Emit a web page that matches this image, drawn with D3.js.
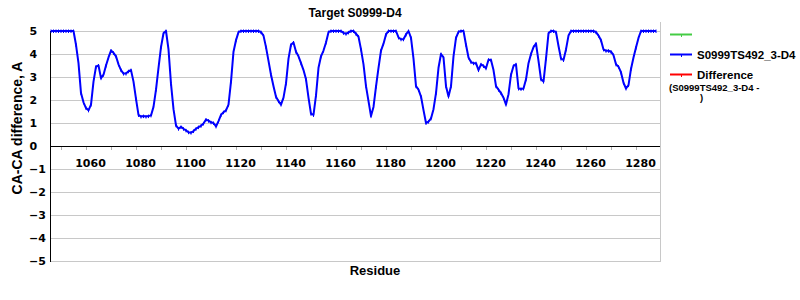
<!DOCTYPE html>
<html>
<head>
<meta charset="utf-8">
<script src="https://cdn.jsdelivr.net/npm/d3@7"></script>
<style>
  body { margin: 0; background: #fff; }
  svg { display: block; }
</style>
</head>
<body>
<div id="chart"></div>
<script>
// Chart data (one value per residue)
const firstResidue = 1046;
const caDiff = [
  5, 5, 5, 5, 5, 5, 5, 5, 5, 5,
  4.4, 3.6, 2.3, 1.9, 1.65, 1.55, 1.8, 2.8, 3.45, 3.5,
  2.95, 3.1, 3.5, 3.85, 4.15, 4.05, 3.9, 3.55, 3.3, 3.15,
  3.15, 3.25, 3.3, 2.8, 2.05, 1.35, 1.28, 1.3, 1.28, 1.3,
  1.33, 1.7, 2.45, 3.4, 4.3, 4.9, 5, 4.2, 2.7, 1.6,
  0.9, 0.75, 0.83, 0.75, 0.68, 0.6, 0.58, 0.65, 0.75, 0.82,
  0.88, 0.98, 1.15, 1.1, 1.03, 1.0, 0.85, 1.08, 1.35, 1.47,
  1.55, 1.8, 2.8, 4.1, 4.6, 4.95, 5, 5, 5, 5,
  5, 5, 5, 5, 4.95, 4.8, 4.3, 3.7, 3.1, 2.6,
  2.14, 1.95, 1.8, 2.1, 2.72, 3.8, 4.4, 4.5, 4.1, 3.9,
  3.6, 3.3, 2.9, 2.1, 1.4, 1.35, 2.2, 3.4, 3.9, 4.15,
  4.5, 4.95, 5, 5, 5, 5, 5, 4.92, 4.88, 4.94,
  5, 5, 4.88, 4.75, 4.2, 3.55, 2.6, 1.95, 1.3, 1.7,
  2.58, 3.4, 4.15, 4.45, 4.85, 5, 5, 5, 5, 4.72,
  4.64, 4.64, 4.85, 5, 4.7, 3.8, 2.6, 2.45, 2.15, 1.56,
  1.0, 1.06, 1.2, 1.6, 2.3, 3.4, 4.0, 3.85, 2.6, 2.15,
  2.6, 3.9, 4.7, 4.96, 5, 5, 4.4, 3.85, 3.65, 3.6,
  3.6, 3.3, 3.55, 3.48, 3.38, 3.75, 3.74, 3.3, 2.6, 2.45,
  2.3, 2.1, 1.8, 2.25, 3.1, 3.48, 3.55, 2.5, 2.48, 2.5,
  2.9, 3.6, 4.0, 4.3, 4.45, 3.7, 2.9, 2.8, 3.8, 4.9,
  5, 5, 4.95, 4.35, 3.8, 3.74, 4.2, 4.8, 5, 5,
  5, 5, 5, 5, 5, 5, 5, 5, 4.95, 4.8,
  4.6, 4.2, 4.14, 4.14, 4.1, 3.95, 3.55, 3.45, 3.2, 2.75,
  2.5, 2.65, 3.35, 3.85, 4.28, 4.7, 5, 5, 5, 5,
  5, 5, 5
];
const residues = caDiff.map((d, i) => firstResidue + i);
const xTicks = [1060, 1080, 1100, 1120, 1140, 1160, 1180, 1200, 1220, 1240, 1260, 1280];
const yTicks = [5, 4, 3, 2, 1, 0, -1, -2, -3, -4, -5];
const legendItems = [
  { label: "", color: "#44cc44" },
  { label: "S0999TS492_3-D4", color: "#0000ff" },
  { label: "Difference", color: "#ff0000" }
];

const width = 800;
const height = 300;
const plotLeft = 50;
const plotRight = 660;
const plotTop = 31;
const plotBottom = 261;

const x = d3.scaleLinear().domain([1045.6, 1289.6]).range([plotLeft, plotRight]);
const y = d3.scaleLinear().domain([-5, 5]).range([plotBottom, plotTop]);

const svg = d3.select("#chart")
  .append("svg")
  .attr("width", width)
  .attr("height", height)
  .attr("style", "font-family: 'DejaVu Sans', sans-serif;");

svg.append("rect").attr("width", width).attr("height", height).attr("fill", "#fff");

// horizontal grid lines
svg.append("g")
  .selectAll("line")
  .data(yTicks.filter((d) => d !== 0))
  .join("line")
  .attr("x1", plotLeft)
  .attr("x2", plotRight)
  .attr("y1", (d) => y(d) + 0.5)
  .attr("y2", (d) => y(d) + 0.5)
  .attr("stroke", "#c8c8c8");

// right border
svg.append("line")
  .attr("x1", plotRight + 0.5).attr("x2", plotRight + 0.5)
  .attr("y1", 22).attr("y2", plotBottom + 1)
  .attr("stroke", "#c8c8c8");

// minor ticks every 10 residues on the zero line
svg.append("g")
  .selectAll("line")
  .data(d3.range(1050, 1290, 10))
  .join("line")
  .attr("x1", (d) => Math.round(x(d)) + 0.5)
  .attr("x2", (d) => Math.round(x(d)) + 0.5)
  .attr("y1", y(0))
  .attr("y2", y(0) + 4)
  .attr("stroke", "#b0b0b0");

// zero line and y axis line
svg.append("line")
  .attr("x1", plotLeft).attr("x2", plotRight)
  .attr("y1", y(0) + 0.5).attr("y2", y(0) + 0.5)
  .attr("stroke", "#000");
svg.append("line")
  .attr("x1", plotLeft + 0.5).attr("x2", plotLeft + 0.5)
  .attr("y1", plotTop).attr("y2", plotBottom + 1)
  .attr("stroke", "#000");

// x tick labels
svg.append("g")
  .selectAll("text")
  .data(xTicks)
  .join("text")
  .attr("x", (d) => x(d) + 4.5)
  .attr("y", 167)
  .attr("text-anchor", "middle")
  .attr("font-size", 11)
  .attr("font-weight", "bold")
  .text((d) => d);

// y tick labels (left aligned, as in the reference)
svg.append("g")
  .selectAll("text")
  .data(yTicks)
  .join("text")
  .attr("x", (d) => (d < 0 ? 29 : 29.5))
  .attr("y", (d) => y(d) + 4)
  .attr("font-size", 11)
  .attr("font-weight", "bold")
  .text((d) => (d < 0 ? "\u2212" + Math.abs(d) : d));

// title and axis titles
svg.append("text")
  .attr("x", 355).attr("y", 17)
  .attr("text-anchor", "middle")
  .attr("font-family", "'Liberation Sans', Arial, sans-serif")
  .attr("font-size", 12).attr("font-weight", "bold")
  .text("Target S0999-D4");

svg.append("text")
  .attr("x", 375).attr("y", 275)
  .attr("text-anchor", "middle")
  .attr("font-family", "'Liberation Sans', Arial, sans-serif")
  .attr("font-size", 13).attr("font-weight", "bold")
  .text("Residue");

svg.append("text")
  .attr("transform", "translate(22,128) rotate(-90)")
  .attr("text-anchor", "middle")
  .attr("font-family", "'Liberation Sans', Arial, sans-serif")
  .attr("font-size", 14).attr("font-weight", "bold")
  .text("CA-CA difference, A");

// the series line
const line = d3.line()
  .x((d, i) => x(residues[i]))
  .y((d) => y(d));

svg.append("path")
  .datum(caDiff)
  .attr("fill", "none")
  .attr("stroke", "#0000ff")
  .attr("stroke-width", 2)
  .attr("stroke-linejoin", "round")
  .attr("d", line);

// small point markers
svg.append("g")
  .selectAll("line")
  .data(caDiff)
  .join("line")
  .attr("x1", (d, i) => x(residues[i]))
  .attr("x2", (d, i) => x(residues[i]))
  .attr("y1", (d) => y(d) - 1.5)
  .attr("y2", (d) => y(d) + 2)
  .attr("stroke", "#0000ff")
  .attr("stroke-width", 1);

// legend
const legend = svg.append("g");
legendItems.forEach((item, i) => {
  const ly = 34.5 + i * 20;
  legend.append("line")
    .attr("x1", 670).attr("x2", 692)
    .attr("y1", ly).attr("y2", ly)
    .attr("stroke", item.color).attr("stroke-width", 2);
  legend.append("line")
    .attr("x1", 681.5).attr("x2", 681.5)
    .attr("y1", ly - 0.5).attr("y2", ly + 2.5)
    .attr("stroke", item.color).attr("stroke-width", 1);
  legend.append("text")
    .attr("x", 697).attr("y", ly + 4.5)
    .attr("font-family", "'Liberation Sans', Arial, sans-serif")
    .attr("font-size", 11.5).attr("font-weight", "bold")
    .text(item.label);
});
legend.append("text")
  .attr("x", 669).attr("y", 91)
  .attr("font-family", "'Liberation Sans', Arial, sans-serif")
  .attr("font-size", 9.5).attr("font-weight", "bold")
  .text("(S0999TS492_3-D4 -");
legend.append("text")
  .attr("x", 700).attr("y", 101)
  .attr("font-family", "'Liberation Sans', Arial, sans-serif")
  .attr("font-size", 9.5).attr("font-weight", "bold")
  .text(")");
</script>
</body>
</html>
